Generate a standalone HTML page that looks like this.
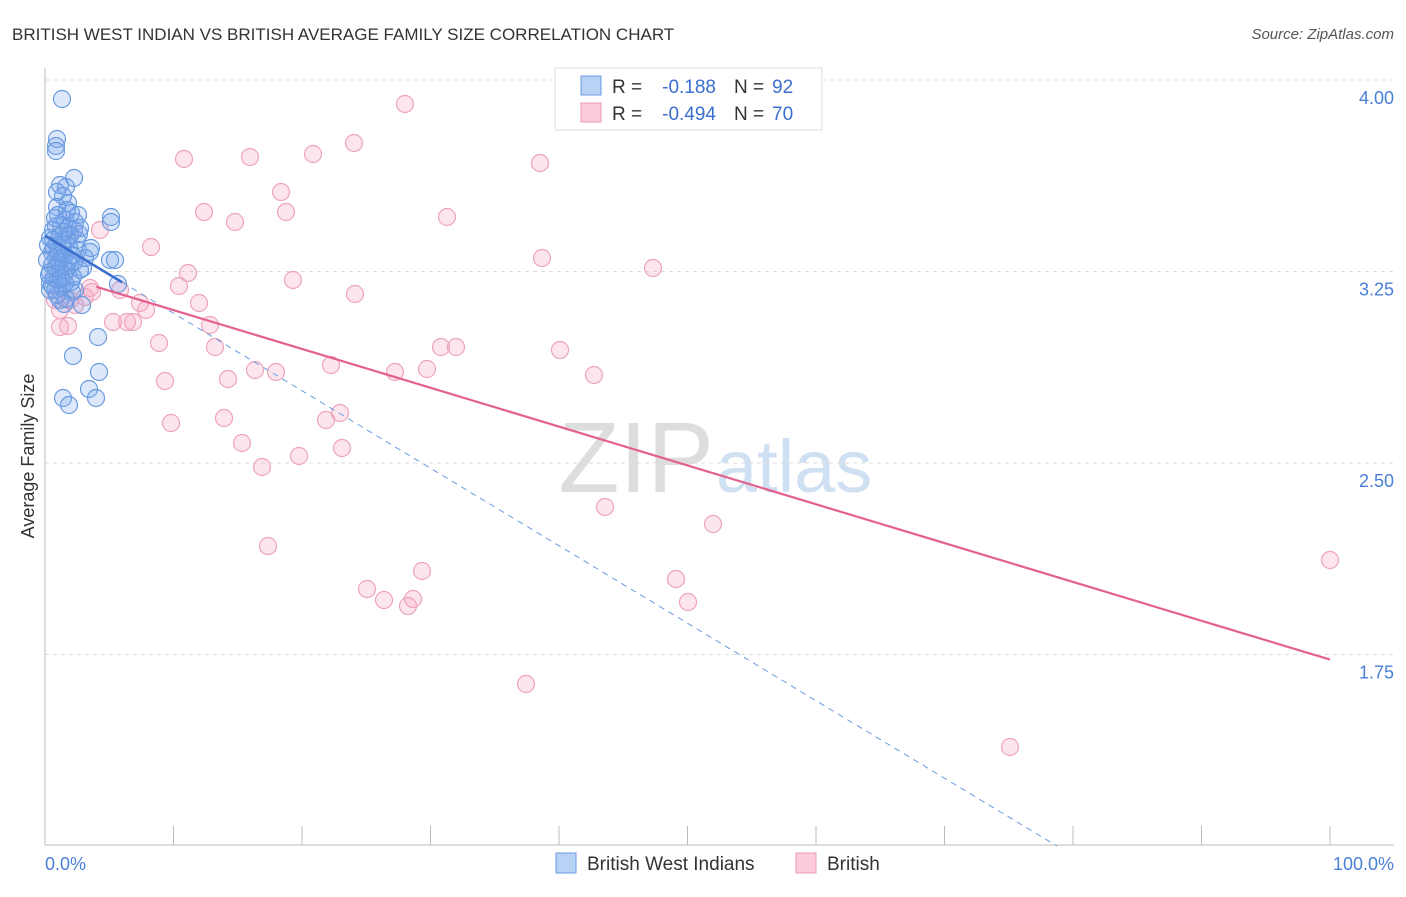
<!DOCTYPE html>
<html><head><meta charset="utf-8"><style>
body{margin:0;background:#fff;font-family:"Liberation Sans",sans-serif;}
svg text{font-family:"Liberation Sans",sans-serif;}
</style></head><body>
<svg id="c" width="1406" height="892">
<text x="12" y="40" font-size="17" fill="#333">BRITISH WEST INDIAN VS BRITISH AVERAGE FAMILY SIZE CORRELATION CHART</text>
<text x="1394" y="39" font-size="15" fill="#555" font-style="italic" text-anchor="end">Source: ZipAtlas.com</text>
<text x="714" y="492" font-size="100" fill="#ddd" font-family="Liberation Serif" text-anchor="end">ZIP</text>
<text x="716" y="492" font-size="74" fill="#cfe0f3">atlas</text>
<g id="grid"></g><g id="marks"></g>
<text transform="translate(34,456) rotate(-90)" font-size="18" fill="#333" text-anchor="middle">Average Family Size</text>
<text x="45" y="870" font-size="18" fill="#4a7fd6">0.0%</text>
<text x="1394" y="870" font-size="18" fill="#4a7fd6" text-anchor="end">100.0%</text>
<g>
<rect x="555" y="68" width="267" height="62" fill="#fff" stroke="#ddd"/>
<rect x="581" y="76" width="20" height="19" fill="#b8d2f5" stroke="#6a9be0"/>
<rect x="581" y="103" width="20" height="19" fill="#fbcbd9" stroke="#e89ab5"/>
<text x="612" y="93" font-size="19" fill="#333">R =</text>
<text x="716" y="93" font-size="19" fill="#3a6fd0" text-anchor="end">-0.188</text>
<text x="734" y="93" font-size="19" fill="#333">N =</text>
<text x="772" y="93" font-size="19" fill="#3a6fd0">92</text>
<text x="612" y="120" font-size="19" fill="#333">R =</text>
<text x="716" y="120" font-size="19" fill="#3a6fd0" text-anchor="end">-0.494</text>
<text x="734" y="120" font-size="19" fill="#333">N =</text>
<text x="772" y="120" font-size="19" fill="#3a6fd0">70</text>
</g>
<g>
<rect x="556" y="853" width="20" height="20" fill="#b8d2f5" stroke="#6a9be0"/>
<text x="587" y="870" font-size="19" fill="#333">British West Indians</text>
<rect x="796" y="853" width="20" height="20" fill="#fbcbd9" stroke="#e89ab5"/>
<text x="827" y="870" font-size="19" fill="#333">British</text>
</g>
</svg>
<script>
const yTicks=[4.00,3.25,2.50,1.75];
const xTicks=[0,0.1,0.2,0.3,0.4,0.5,0.6,0.7,0.8,0.9,1.0];
const pinkPx=[[405,104],[354,143],[313,154],[250,157],[184,159],[540,163],[281,192],[204,212],[286,212],[447,217],[235,222],[151,247],[100,230],[542,258],[653,268],[188,273],[293,280],[179,286],[355,294],[120,290],[92,292],[199,303],[140,303],[146,310],[133,322],[113,322],[127,322],[210,325],[68,326],[60,327],[159,343],[215,347],[441,347],[456,347],[560,350],[331,365],[255,370],[276,372],[395,372],[427,369],[594,375],[165,381],[228,379],[340,413],[326,420],[224,418],[171,423],[242,443],[342,448],[299,456],[262,467],[605,507],[713,524],[268,546],[1330,560],[422,571],[676,579],[367,589],[384,600],[413,599],[408,606],[688,602],[526,684],[1010,747],[60,310],[75,305],[85,297],[55,300],[90,288],[70,300]];
const bluePx=[[62,99],[57,139],[56,146],[56,151],[74,178],[60,185],[66,187],[57,192],[63,196],[68,203],[57,207],[71,213],[78,215],[111,217],[111,222],[65,220],[75,222],[56,226],[74,230],[64,232],[79,234],[50,238],[57,245],[91,248],[90,252],[69,247],[78,250],[52,252],[56,258],[110,260],[115,260],[68,262],[83,268],[60,270],[50,272],[64,275],[73,277],[58,280],[50,283],[62,287],[55,290],[118,284],[72,292],[66,299],[60,300],[82,305],[64,304],[98,337],[73,356],[99,372],[89,389],[63,398],[96,398],[69,405],[52,265],[54,278],[47,260],[70,265],[65,255],[80,270],[48,245],[58,215],[61,225],[67,240],[53,230],[75,290],[85,258],[57,295],[50,290],[63,265],[66,270],[59,262],[71,282],[54,248],[77,240],[62,258],[68,228],[52,285],[60,236],[74,262],[56,268],[65,283],[49,275],[58,252],[72,255],[63,245],[55,218],[67,210],[80,228],[61,278],[53,240],[70,235]];
const toX=p=>(p-45)/1285, toY=p=>4-(p-80)/255.33;
const pinkX=pinkPx.map(p=>toX(p[0])), pinkY=pinkPx.map(p=>toY(p[1]));
const blueX=bluePx.map(p=>toX(p[0])), blueY=bluePx.map(p=>toY(p[1]));
const pinkFit=[3.19,1.73], blueFit=[3.39,1.0];
const X=v=>45+v*1285, Y=v=>80+(4-v)*255.33;
const ns="http://www.w3.org/2000/svg";
function mk(t,a,par){const e=document.createElementNS(ns,t);for(const k in a)e.setAttribute(k,a[k]);par.appendChild(e);return e;}
const g=document.getElementById('grid'), m=document.getElementById('marks');
yTicks.forEach(v=>{
 const l=mk('line',{x1:45,x2:1394,y1:Y(v),y2:Y(v),stroke:'#ddd','stroke-dasharray':'4,4'},g);
 
 
 const t=mk('text',{x:1394,y:Y(v)+24,'font-size':18,fill:'#4a7fd6','text-anchor':'end'},g);
 t.textContent=v.toFixed(2);
 
 
});
mk('line',{x1:45,x2:45,y1:68,y2:845,stroke:'#bbb'},g);
mk('line',{x1:45,x2:1394,y1:845,y2:845,stroke:'#bbb'},g);
xTicks.forEach(v=>{
 const l=mk('line',{x1:X(v),x2:X(v),y1:826,y2:845,stroke:'#bbb'},g);
 
 
});
pinkX.forEach((x,i)=>{
 const c=mk('circle',{cx:X(x),cy:Y(pinkY[i]),r:8.5,fill:'rgba(245,160,190,0.28)',stroke:'#eda3bd','stroke-width':1.2},m);
 
 
});
blueX.forEach((x,i)=>{
 const c=mk('circle',{cx:X(x),cy:Y(blueY[i]),r:8.5,fill:'rgba(120,165,235,0.25)',stroke:'#6a9be0','stroke-width':1.2},m);
 
 
});
const bx1=0.7875, by=v=>blueFit[0]+(blueFit[1]-blueFit[0])*v/bx1;
const bd=mk('line',{x1:X(0.06),y1:Y(by(0.06)),x2:X(bx1),y2:Y(by(bx1)),stroke:'#6a9be0','stroke-dasharray':'6,5'},m);


const bs=mk('line',{x1:X(0),y1:Y(by(0)),x2:X(0.06),y2:Y(by(0.06)),stroke:'#3a6fd0','stroke-width':2.5},m);


const pl=mk('line',{x1:X(0.04),y1:Y(pinkFit[0]),x2:X(1),y2:Y(pinkFit[1]),stroke:'#e4608f','stroke-width':2.2},m);


</script>
</body></html>
